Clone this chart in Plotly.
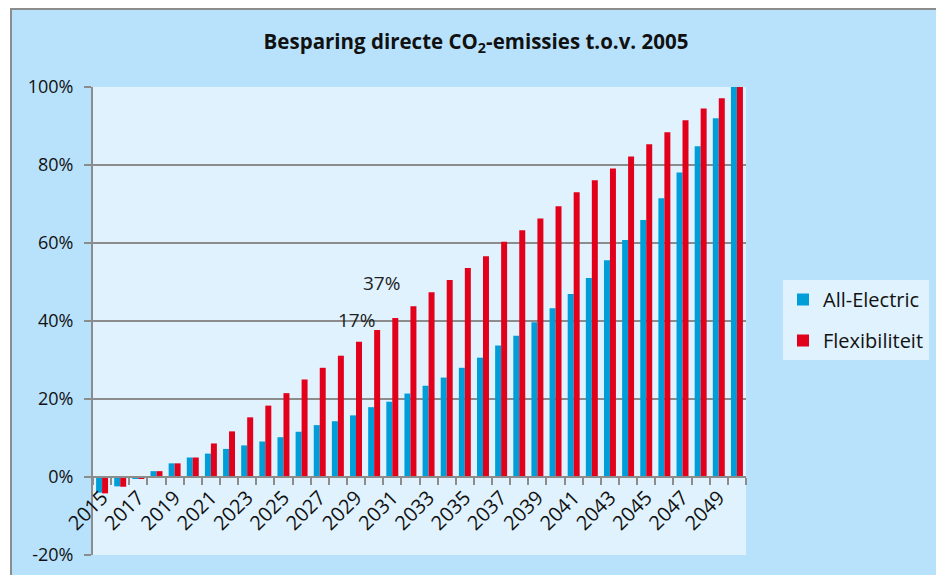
import plotly.graph_objects as go

years = list(range(2015, 2051))
all_electric = [-4.0, -2.4, -0.5, 1.5, 3.5, 5.0, 6.0, 7.2, 8.1, 9.1, 10.2, 11.6,
                13.3, 14.3, 15.8, 17.9, 19.3, 21.4, 23.4, 25.5, 28.0, 30.6, 33.7,
                36.2, 39.7, 43.3, 46.9, 51.0, 55.6, 60.8, 65.9, 71.5, 78.1, 84.8,
                92.0, 100.0]
flexibiliteit = [-4.2, -2.5, -0.4, 1.5, 3.5, 5.0, 8.6, 11.7, 15.3, 18.3, 21.5, 25.0,
                 28.0, 31.1, 34.7, 37.7, 40.8, 43.8, 47.4, 50.5, 53.6, 56.6, 60.3,
                 63.3, 66.3, 69.4, 73.0, 76.1, 79.1, 82.2, 85.3, 88.4, 91.5, 94.5,
                 97.1, 100.0]
x_labels = [str(y) for y in range(2015, 2051, 2)]
y_ticks = [-20, 0, 20, 40, 60, 80, 100]
callouts = [("37%", 2030.4, 49.7), ("17%", 2029.05, 40.3)]

FONT = "Open Sans"
GRID = "#8C8C8C"
BLUE = "#009ED9"
RED = "#E3001B"
OUTER = "#B8E2FC"
INNER = "#E0F2FE"

# page offset compensation (body margin)
OFF = 8
L, T = 93 - OFF, 87 - OFF
PW, PH = 653, 468
W, H = 944, 575

fig = go.Figure()
fig.add_trace(go.Bar(x=years, y=all_electric, name="All-Electric",
                     marker=dict(color=BLUE, line=dict(width=0)),
                     legendgroup="a"))
fig.add_trace(go.Bar(x=years, y=flexibiliteit, name="Flexibiliteit",
                     marker=dict(color=RED, line=dict(width=0)),
                     legendgroup="b"))

for txt, xx, yy in callouts:
    fig.add_annotation(x=xx, y=yy, xref="x", yref="y", text=txt, showarrow=False,
                       font=dict(family=FONT, size=19, color="#222222"))

# outer chart frame
fig.add_shape(type="rect", xref="paper", yref="paper",
              x0=(11 - OFF - L) / PW, x1=(W + 20 - L) / PW,
              y0=-(H + 20 - (T + PH)) / PH, y1=(T + PH - (9 - OFF)) / PH,
              fillcolor=OUTER, line=dict(color="#8C8C8C", width=2),
              layer="below")
# plot area background
fig.add_shape(type="rect", xref="paper", yref="paper",
              x0=0, x1=1, y0=0, y1=1,
              fillcolor=INNER, line=dict(width=0), layer="below")

fig.update_layout(
    width=W, height=H,
    margin=dict(l=L, r=W - L - PW, t=T, b=H - T - PH),
    paper_bgcolor="white",
    plot_bgcolor=INNER,
    barmode="group", bargap=0.34, bargroupgap=0,
    title=dict(text="<b>Besparing directe CO<sub>2</sub>-emissies t.o.v. 2005</b>",
               x=(476 - OFF) / W, xanchor="center", y=1 - (42 - OFF) / H, yanchor="middle",
               font=dict(family=FONT, size=20.5, color="#111111")),
    showlegend=True,
    legend=dict(x=(783 - 93) / PW, y=(555 - 280) / PH, xanchor="left", yanchor="top",
                bgcolor=INNER, borderwidth=0, tracegroupgap=12, itemwidth=30,
                font=dict(family=FONT, size=20, color="#111111"),
                traceorder="grouped"),
    xaxis=dict(
        range=[2014.5, 2050.5],
        anchor="free", position=20 / 120,
        tickmode="array", tickvals=[int(v) for v in x_labels], ticktext=x_labels,
        tickangle=-45, ticks="", showgrid=False,
        showline=True, linecolor=GRID, linewidth=2,
        tickfont=dict(family=FONT, size=20, color="#111111"),
        minor=dict(tick0=2014.5, dtick=1, ticks="outside", ticklen=7,
                   tickcolor=GRID, tickwidth=2, showgrid=False),
        zeroline=False,
    ),
    yaxis=dict(
        range=[-20, 100], tickmode="array", tickvals=y_ticks,
        ticktext=[f"{v}%" for v in y_ticks],
        showgrid=True, gridcolor=GRID, gridwidth=2,
        showline=True, linecolor=GRID, linewidth=2,
        ticks="outside", ticklen=7, tickcolor=GRID, tickwidth=2,
        ticklabelstandoff=7,
        zeroline=False,
        tickfont=dict(family=FONT, size=18, color="#111111"),
    ),
)

fig.write_html("out.html")
